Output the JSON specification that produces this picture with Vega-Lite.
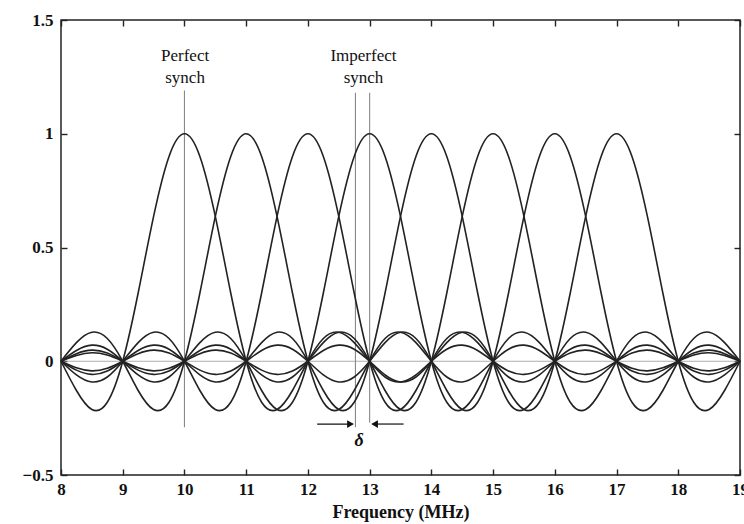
{
  "$schema": "https://vega.github.io/schema/vega-lite/v6.json",
  "width": 679,
  "height": 455,
  "autosize": {"type": "none"},
  "padding": {"left": 61, "top": 20, "right": 4, "bottom": 49},
  "background": "white",
  "config": {
    "view": {"stroke": "#222", "strokeWidth": 1.5},
    "font": "Liberation Serif",
    "axis": {
      "domain": false, "grid": false, "ticks": true, "tickSize": -6, "tickColor": "#222", "tickWidth": 1.4,
      "labelFont": "Liberation Serif", "labelFontSize": 17, "labelFontWeight": "bold", "labelColor": "#111", "labelFlush": false,
      "titleFont": "Liberation Serif", "titleFontSize": 18, "titleFontWeight": "bold", "titleColor": "#111"
    }
  },
  "datasets": {
    "curves": [
      {"x": 8, "s10": 0, "s11": 0, "s12": 0, "s13": 0, "s14": 0, "s15": 0, "s16": 0, "s17": 0},
      {"x": 8.25, "s10": -0.1286, "s11": 0.0818, "s12": -0.06, "s13": 0.0474, "s14": -0.0391, "s15": 0.0333, "s16": -0.029, "s17": 0.0257},
      {"x": 8.5, "s10": -0.2122, "s11": 0.1273, "s12": -0.0909, "s13": 0.0707, "s14": -0.0579, "s15": 0.049, "s16": -0.0424, "s17": 0.0374},
      {"x": 8.75, "s10": -0.1801, "s11": 0.1, "s12": -0.0693, "s13": 0.053, "s14": -0.0429, "s15": 0.036, "s16": -0.031, "s17": 0.0273},
      {"x": 9, "s10": 0, "s11": 0, "s12": 0, "s13": 0, "s14": 0, "s15": 0, "s16": 0, "s17": 0},
      {"x": 9.25, "s10": 0.3001, "s11": -0.1286, "s12": 0.0818, "s13": -0.06, "s14": 0.0474, "s15": -0.0391, "s16": 0.0333, "s17": -0.029},
      {"x": 9.5, "s10": 0.6366, "s11": -0.2122, "s12": 0.1273, "s13": -0.0909, "s14": 0.0707, "s15": -0.0579, "s16": 0.049, "s17": -0.0424},
      {"x": 9.75, "s10": 0.9003, "s11": -0.1801, "s12": 0.1, "s13": -0.0693, "s14": 0.053, "s15": -0.0429, "s16": 0.036, "s17": -0.031},
      {"x": 10, "s10": 1, "s11": 0, "s12": 0, "s13": 0, "s14": 0, "s15": 0, "s16": 0, "s17": 0},
      {"x": 10.25, "s10": 0.9003, "s11": 0.3001, "s12": -0.1286, "s13": 0.0818, "s14": -0.06, "s15": 0.0474, "s16": -0.0391, "s17": 0.0333},
      {"x": 10.5, "s10": 0.6366, "s11": 0.6366, "s12": -0.2122, "s13": 0.1273, "s14": -0.0909, "s15": 0.0707, "s16": -0.0579, "s17": 0.049},
      {"x": 10.75, "s10": 0.3001, "s11": 0.9003, "s12": -0.1801, "s13": 0.1, "s14": -0.0693, "s15": 0.053, "s16": -0.0429, "s17": 0.036},
      {"x": 11, "s10": 0, "s11": 1, "s12": 0, "s13": 0, "s14": 0, "s15": 0, "s16": 0, "s17": 0},
      {"x": 11.25, "s10": -0.1801, "s11": 0.9003, "s12": 0.3001, "s13": -0.1286, "s14": 0.0818, "s15": -0.06, "s16": 0.0474, "s17": -0.0391},
      {"x": 11.5, "s10": -0.2122, "s11": 0.6366, "s12": 0.6366, "s13": -0.2122, "s14": 0.1273, "s15": -0.0909, "s16": 0.0707, "s17": -0.0579},
      {"x": 11.75, "s10": -0.1286, "s11": 0.3001, "s12": 0.9003, "s13": -0.1801, "s14": 0.1, "s15": -0.0693, "s16": 0.053, "s17": -0.0429},
      {"x": 12, "s10": 0, "s11": 0, "s12": 1, "s13": 0, "s14": 0, "s15": 0, "s16": 0, "s17": 0},
      {"x": 12.25, "s10": 0.1, "s11": -0.1801, "s12": 0.9003, "s13": 0.3001, "s14": -0.1286, "s15": 0.0818, "s16": -0.06, "s17": 0.0474},
      {"x": 12.5, "s10": 0.1273, "s11": -0.2122, "s12": 0.6366, "s13": 0.6366, "s14": -0.2122, "s15": 0.1273, "s16": -0.0909, "s17": 0.0707},
      {"x": 12.75, "s10": 0.0818, "s11": -0.1286, "s12": 0.3001, "s13": 0.9003, "s14": -0.1801, "s15": 0.1, "s16": -0.0693, "s17": 0.053},
      {"x": 13, "s10": 0, "s11": 0, "s12": 0, "s13": 1, "s14": 0, "s15": 0, "s16": 0, "s17": 0},
      {"x": 13.25, "s10": -0.0693, "s11": 0.1, "s12": -0.1801, "s13": 0.9003, "s14": 0.3001, "s15": -0.1286, "s16": 0.0818, "s17": -0.06},
      {"x": 13.5, "s10": -0.0909, "s11": 0.1273, "s12": -0.2122, "s13": 0.6366, "s14": 0.6366, "s15": -0.2122, "s16": 0.1273, "s17": -0.0909},
      {"x": 13.75, "s10": -0.06, "s11": 0.0818, "s12": -0.1286, "s13": 0.3001, "s14": 0.9003, "s15": -0.1801, "s16": 0.1, "s17": -0.0693},
      {"x": 14, "s10": 0, "s11": 0, "s12": 0, "s13": 0, "s14": 1, "s15": 0, "s16": 0, "s17": 0},
      {"x": 14.25, "s10": 0.053, "s11": -0.0693, "s12": 0.1, "s13": -0.1801, "s14": 0.9003, "s15": 0.3001, "s16": -0.1286, "s17": 0.0818},
      {"x": 14.5, "s10": 0.0707, "s11": -0.0909, "s12": 0.1273, "s13": -0.2122, "s14": 0.6366, "s15": 0.6366, "s16": -0.2122, "s17": 0.1273},
      {"x": 14.75, "s10": 0.0474, "s11": -0.06, "s12": 0.0818, "s13": -0.1286, "s14": 0.3001, "s15": 0.9003, "s16": -0.1801, "s17": 0.1},
      {"x": 15, "s10": 0, "s11": 0, "s12": 0, "s13": 0, "s14": 0, "s15": 1, "s16": 0, "s17": 0},
      {"x": 15.25, "s10": -0.0429, "s11": 0.053, "s12": -0.0693, "s13": 0.1, "s14": -0.1801, "s15": 0.9003, "s16": 0.3001, "s17": -0.1286},
      {"x": 15.5, "s10": -0.0579, "s11": 0.0707, "s12": -0.0909, "s13": 0.1273, "s14": -0.2122, "s15": 0.6366, "s16": 0.6366, "s17": -0.2122},
      {"x": 15.75, "s10": -0.0391, "s11": 0.0474, "s12": -0.06, "s13": 0.0818, "s14": -0.1286, "s15": 0.3001, "s16": 0.9003, "s17": -0.1801},
      {"x": 16, "s10": 0, "s11": 0, "s12": 0, "s13": 0, "s14": 0, "s15": 0, "s16": 1, "s17": 0},
      {"x": 16.25, "s10": 0.036, "s11": -0.0429, "s12": 0.053, "s13": -0.0693, "s14": 0.1, "s15": -0.1801, "s16": 0.9003, "s17": 0.3001},
      {"x": 16.5, "s10": 0.049, "s11": -0.0579, "s12": 0.0707, "s13": -0.0909, "s14": 0.1273, "s15": -0.2122, "s16": 0.6366, "s17": 0.6366},
      {"x": 16.75, "s10": 0.0333, "s11": -0.0391, "s12": 0.0474, "s13": -0.06, "s14": 0.0818, "s15": -0.1286, "s16": 0.3001, "s17": 0.9003},
      {"x": 17, "s10": 0, "s11": 0, "s12": 0, "s13": 0, "s14": 0, "s15": 0, "s16": 0, "s17": 1},
      {"x": 17.25, "s10": -0.031, "s11": 0.036, "s12": -0.0429, "s13": 0.053, "s14": -0.0693, "s15": 0.1, "s16": -0.1801, "s17": 0.9003},
      {"x": 17.5, "s10": -0.0424, "s11": 0.049, "s12": -0.0579, "s13": 0.0707, "s14": -0.0909, "s15": 0.1273, "s16": -0.2122, "s17": 0.6366},
      {"x": 17.75, "s10": -0.029, "s11": 0.0333, "s12": -0.0391, "s13": 0.0474, "s14": -0.06, "s15": 0.0818, "s16": -0.1286, "s17": 0.3001},
      {"x": 18, "s10": 0, "s11": 0, "s12": 0, "s13": 0, "s14": 0, "s15": 0, "s16": 0, "s17": 0},
      {"x": 18.25, "s10": 0.0273, "s11": -0.031, "s12": 0.036, "s13": -0.0429, "s14": 0.053, "s15": -0.0693, "s16": 0.1, "s17": -0.1801},
      {"x": 18.5, "s10": 0.0374, "s11": -0.0424, "s12": 0.049, "s13": -0.0579, "s14": 0.0707, "s15": -0.0909, "s16": 0.1273, "s17": -0.2122},
      {"x": 18.75, "s10": 0.0257, "s11": -0.029, "s12": 0.0333, "s13": -0.0391, "s14": 0.0474, "s15": -0.06, "s16": 0.0818, "s17": -0.1286},
      {"x": 19, "s10": 0, "s11": 0, "s12": 0, "s13": 0, "s14": 0, "s15": 0, "s16": 0, "s17": 0}
    ],
    "vlines": [
      {"x": 10, "y1": -0.29, "y2": 1.19},
      {"x": 12.77, "y1": -0.29, "y2": 1.18},
      {"x": 13, "y1": -0.27, "y2": 1.18}
    ],
    "arrows": [
      {"x": 12.15, "x2": 12.72, "y": -0.276},
      {"x": 13.05, "x2": 13.55, "y": -0.276}
    ],
    "heads": [
      {"x": 12.69, "y": -0.276, "shape": "triangle-right"},
      {"x": 13.08, "y": -0.276, "shape": "triangle-left"}
    ],
    "labels": [
      {"x": 10.01, "y": 1.318, "t": "Perfect"},
      {"x": 10.01, "y": 1.225, "t": "synch"},
      {"x": 12.9, "y": 1.318, "t": "Imperfect"},
      {"x": 12.9, "y": 1.225, "t": "synch"}
    ]
  },
  "layer": [
    {
      "data": {"values": [{"z": 0}]},
      "mark": {"type": "rule", "color": "#999", "strokeWidth": 0.8},
      "encoding": {
        "y": {"field": "z", "type": "quantitative", "scale": {"domain": [-0.5, 1.5], "nice": false, "zero": false}, "axis": null}
      }
    },
    {
      "data": {"name": "vlines"},
      "mark": {"type": "rule", "color": "#888", "strokeWidth": 1.1},
      "encoding": {
        "x": {"field": "x", "type": "quantitative", "scale": {"domain": [8, 19], "nice": false, "zero": false},
              "axis": {"orient": "top", "labels": false, "title": null, "values": [8, 9, 10, 11, 12, 13, 14, 15, 16, 17, 18, 19]}},
        "y": {"field": "y1", "type": "quantitative",
              "axis": {"orient": "right", "labels": false, "title": null, "values": [-0.5, 0, 0.5, 1, 1.5]}},
        "y2": {"field": "y2"}
      }
    },
    {
      "data": {"name": "curves"},
      "transform": [{"fold": ["s10", "s11", "s12", "s13", "s14", "s15", "s16", "s17"], "as": ["curve", "y"]}],
      "mark": {"type": "line", "color": "#222", "strokeWidth": 1.6, "interpolate": "natural"},
      "encoding": {
        "x": {"field": "x", "type": "quantitative",
              "axis": {"orient": "bottom", "title": "Frequency (MHz)", "values": [8, 9, 10, 11, 12, 13, 14, 15, 16, 17, 18, 19], "format": "~g", "labelPadding": 12, "titlePadding": 6}},
        "y": {"field": "y", "type": "quantitative",
              "axis": {"orient": "left", "title": null, "values": [-0.5, 0, 0.5, 1, 1.5], "format": "~g", "labelPadding": 14}},
        "detail": {"field": "curve"}
      }
    },
    {
      "data": {"name": "arrows"},
      "mark": {"type": "rule", "color": "#111", "strokeWidth": 1.2},
      "encoding": {
        "x": {"field": "x", "type": "quantitative", "axis": null},
        "x2": {"field": "x2"},
        "y": {"field": "y", "type": "quantitative", "axis": null}
      }
    },
    {
      "data": {"name": "heads"},
      "mark": {"type": "point", "filled": true, "color": "#111", "size": 60, "opacity": 1},
      "encoding": {
        "x": {"field": "x", "type": "quantitative", "axis": null},
        "y": {"field": "y", "type": "quantitative", "axis": null},
        "shape": {"field": "shape", "type": "nominal", "scale": null, "legend": null}
      }
    },
    {
      "data": {"values": [{"x": 12.83, "y": -0.35, "t": "δ"}]},
      "mark": {"type": "text", "font": "Liberation Serif", "fontSize": 18, "fontStyle": "italic", "fontWeight": "bold", "color": "#111"},
      "encoding": {
        "x": {"field": "x", "type": "quantitative", "axis": null},
        "y": {"field": "y", "type": "quantitative", "axis": null},
        "text": {"field": "t"}
      }
    },
    {
      "data": {"name": "labels"},
      "mark": {"type": "text", "font": "Liberation Serif", "fontSize": 17, "color": "#111", "baseline": "alphabetic"},
      "encoding": {
        "x": {"field": "x", "type": "quantitative", "axis": null},
        "y": {"field": "y", "type": "quantitative", "axis": null},
        "text": {"field": "t"}
      }
    }
  ],
  "resolve": {"axis": {"x": "independent", "y": "independent"}}
}
